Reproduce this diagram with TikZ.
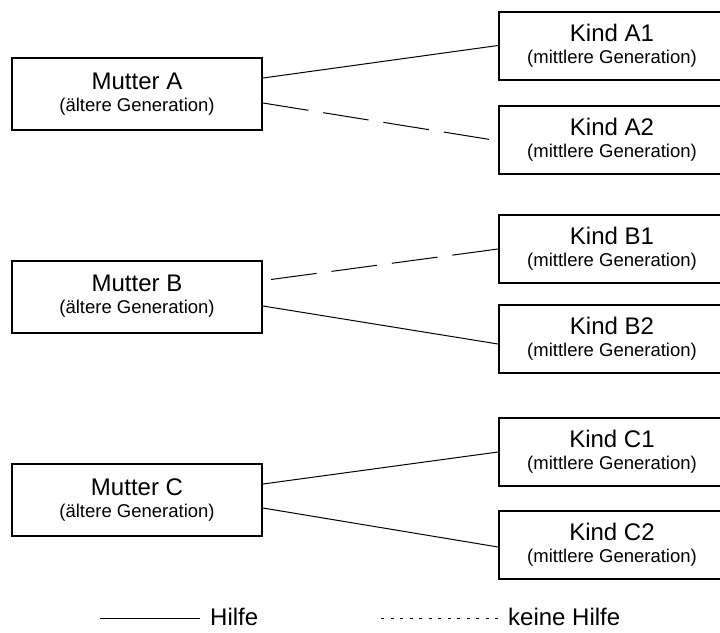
\documentclass[tikz,border=0pt]{standalone}
\usepackage{fontspec}
\setmainfont{Liberation Sans}
\usepackage{tikz}
\usetikzlibrary{calc, positioning}

\newcommand{\gen}[1]{{\fontsize{18.5}{22}\selectfont(#1)}}

\begin{document}
\begin{tikzpicture}[x=1pt, y=-1pt,
                        box/.style={draw, line width=2pt, align=center, font=\fontsize{24}{22}\selectfont},
                        mutter/.style={box, minimum width=250pt, minimum height=72pt},
                        kind/.style={box, minimum width=226pt, minimum height=68pt},
                        hilfe/.style={line width=1pt},
                        keinehilfe/.style={line width=1pt, dash pattern=on 46pt off 15pt},
                        legdots/.style={line width=1pt, dash pattern=on 3pt off 6.5pt},
                        legtext/.style={anchor=base west, inner sep=0pt, font=\fontsize{24}{26}\selectfont}]
                        \path[use as bounding box, clip] (0, 0) rectangle (720, 632);
                        \node[mutter] (ma) at (137, 94) {Mutter A\\\gen{ältere Generation}};
                        \node[mutter] (mb) at (137, 296.5) {Mutter B\\\gen{ältere Generation}};
                        \node[mutter] (mc) at (137, 500) {Mutter C\\\gen{ältere Generation}};
                        \node[kind] (ka1) at (612, 45.5) {Kind A1\\\gen{mittlere Generation}};
                        \node[kind] (ka2) at (612, 139.5) {Kind A2\\\gen{mittlere Generation}};
                        \node[kind] (kb1) at (612, 249) {Kind B1\\\gen{mittlere Generation}};
                        \node[kind] (kb2) at (612, 339) {Kind B2\\\gen{mittlere Generation}};
                        \node[kind] (kc1) at (612, 452) {Kind C1\\\gen{mittlere Generation}};
                        \node[kind] (kc2) at (612, 544.5) {Kind C2\\\gen{mittlere Generation}};
                        \draw[hilfe] ([yshift=16pt]ma.east) -- (ka1.west);
                        \draw[keinehilfe] ([yshift=-9pt]ma.east) -- ([xshift=-8pt]ka2.west);
                        \draw[keinehilfe] ([xshift=8pt, yshift=17pt]mb.east) -- (kb1.west);
                        \draw[hilfe] ([yshift=-9.5pt]mb.east) -- ([yshift=-5pt]kb2.west);
                        \draw[hilfe] ([yshift=16pt]mc.east) -- (kc1.west);
                        \draw[hilfe] ([yshift=-8pt]mc.east) -- ([yshift=-2.5pt]kc2.west);
                        \coordinate (hanf) at (100, 618);
                        \node[legtext] (htxt) at (210, 625.5) {Hilfe};
                        \coordinate (kanf) at (381, 618);
                        \node[legtext] (ktxt) at (508, 625.5) {keine Hilfe};
                        \draw[hilfe] (hanf) -- ([xshift=-10pt]hanf -| htxt.west);
                        \draw[legdots] (kanf) -- ([xshift=-10pt]kanf -| ktxt.west);
                    \end{tikzpicture}
\end{document}
